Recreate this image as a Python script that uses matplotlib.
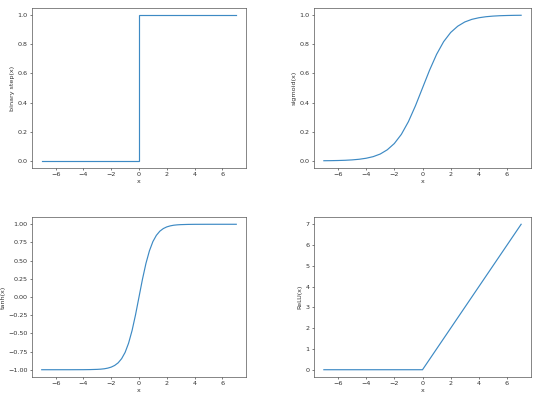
import matplotlib
matplotlib.use("Agg")
import matplotlib.pyplot as plt

# Binary step
step_x = [-7, 0, 0, 7]
step_y = [0, 0, 1, 1]

# Sigmoid (values read at 0.5 steps)
sig_x = [-7, -6.5, -6, -5.5, -5, -4.5, -4, -3.5, -3, -2.5, -2, -1.5, -1, -0.5, 0,
         0.5, 1, 1.5, 2, 2.5, 3, 3.5, 4, 4.5, 5, 5.5, 6, 6.5, 7]
sig_y = [0.001, 0.0015, 0.0025, 0.004, 0.0067, 0.011, 0.018, 0.029, 0.047, 0.076,
         0.119, 0.182, 0.269, 0.378, 0.5,
         0.622, 0.731, 0.818, 0.881, 0.924, 0.953, 0.971, 0.982, 0.989, 0.9933,
         0.996, 0.9975, 0.9985, 0.999]

# Tanh
tanh_x = [-7, -6, -5, -4, -3.5, -3, -2.75, -2.5, -2.25, -2, -1.75, -1.5, -1.25, -1,
          -0.75, -0.5, -0.25, 0, 0.25, 0.5, 0.75, 1, 1.25, 1.5, 1.75, 2, 2.25, 2.5,
          2.75, 3, 3.5, 4, 5, 6, 7]
tanh_y = [-1.0, -1.0, -0.9999, -0.9993, -0.998, -0.995, -0.992, -0.987, -0.978,
          -0.964, -0.941, -0.905, -0.848, -0.762, -0.635, -0.462, -0.245, 0.0,
          0.245, 0.462, 0.635, 0.762, 0.848, 0.905, 0.941, 0.964, 0.978, 0.987,
          0.992, 0.995, 0.998, 0.9993, 0.9999, 1.0, 1.0]

# ReLU
relu_x = [-7, 0, 7]
relu_y = [0, 0, 7]

panels = [
    (step_x, step_y, "binary step(x)"),
    (sig_x, sig_y, "sigmoid(x)"),
    (tanh_x, tanh_y, "tanh(x)"),
    (relu_x, relu_y, "ReLU(x)"),
]

fs = 4.6
plt.rcParams.update({
    "font.size": fs,
    "axes.linewidth": 0.5,
    "xtick.major.width": 0.45,
    "ytick.major.width": 0.45,
    "xtick.major.size": 1.6,
    "ytick.major.size": 1.6,
    "xtick.major.pad": 1.5,
    "ytick.major.pad": 1.5,
    "xtick.color": "#333333",
    "ytick.color": "#333333",
})

fig = plt.figure(figsize=(5.35, 4.01), dpi=100)
W, H = 535, 401
rects = [
    (32, 8, 246, 168),
    (314, 8, 531, 168),
    (32, 217, 246, 377),
    (314, 217, 531, 377),
]
for (xs, ys, lab), (l, t, r, b) in zip(panels, rects):
    ax = fig.add_axes([l / W, 1 - b / H, (r - l) / W, (b - t) / H])
    ax.plot(xs, ys, color="#3d8ac4", lw=0.85, solid_joinstyle="miter")
    ax.set_xlabel("x", fontsize=fs, labelpad=1.5, color="#333333")
    ax.set_ylabel(lab, fontsize=fs, labelpad=2, color="#333333")
    ax.set_xticks([-6, -4, -2, 0, 2, 4, 6])
    for s in ax.spines.values():
        s.set_color("#555555")

fig.savefig("out.png", dpi=100)
